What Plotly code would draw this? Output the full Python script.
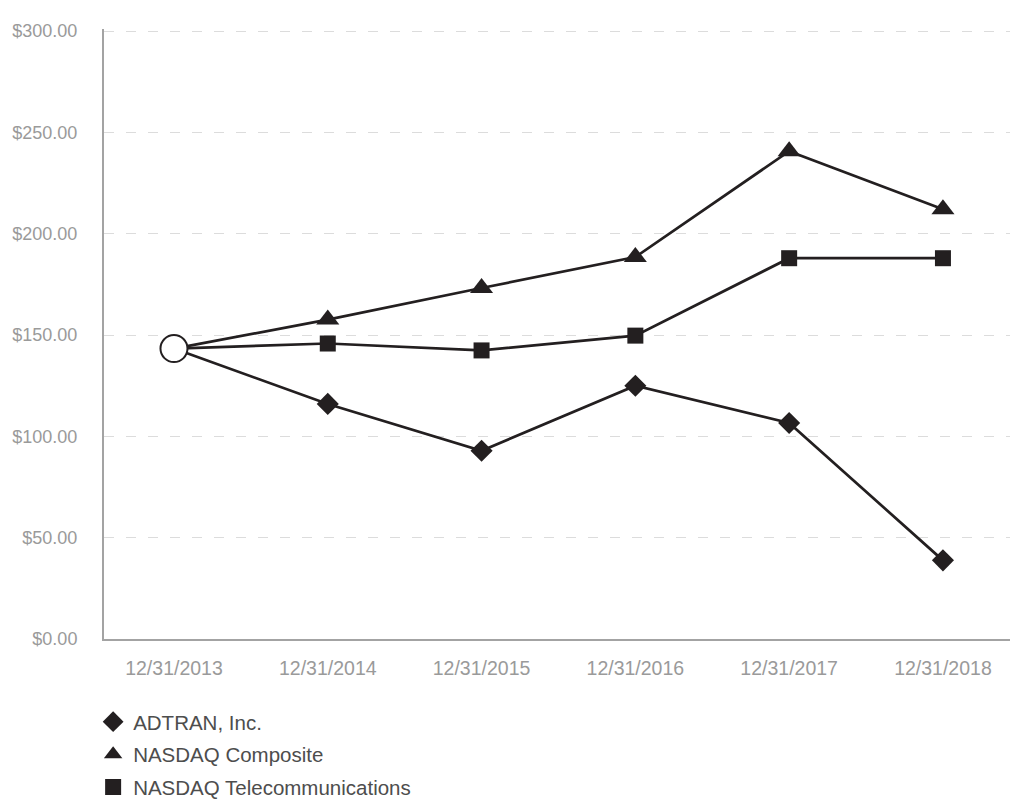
import plotly.graph_objects as go

dates = ["12/31/2013", "12/31/2014", "12/31/2015", "12/31/2016", "12/31/2017", "12/31/2018"]
adtran = [143.3, 116.0, 92.9, 125.0, 106.6, 38.8]
nasdaq_composite = [143.3, 157.6, 173.2, 188.5, 240.7, 212.1]
nasdaq_telecom = [143.3, 145.8, 142.4, 149.7, 187.9, 187.9]
y_ticks = [0, 50, 100, 150, 200, 250, 300]

LINE = "#231f20"
FONT = "Liberation Sans, Arial, Helvetica, sans-serif"

xi = list(range(len(dates)))

fig = go.Figure()

series = [
    ("ADTRAN, Inc.", adtran, "diamond", 17),
    ("NASDAQ Composite", nasdaq_composite, "triangle-up", 20),
    ("NASDAQ Telecommunications", nasdaq_telecom, "square", 16),
]
for i, (name, vals, sym, sz) in enumerate(series):
    sizes = [0] + [sz] * (len(vals) - 1)
    fig.add_trace(go.Scatter(
        x=xi, y=vals, name=name, mode="lines+markers", showlegend=False,
        line=dict(color=LINE, width=2.7),
        marker=dict(symbol=sym, size=sizes, color=LINE, opacity=1, line=dict(width=0)),
    ))

# common starting point marker
fig.add_trace(go.Scatter(
    x=[xi[0]], y=[adtran[0]], mode="markers", showlegend=False,
    marker=dict(symbol="circle", size=27, color="white", opacity=1,
                line=dict(color=LINE, width=2)),
))

# legend entries (markers only)
for i, (name, vals, sym, sz) in enumerate(series):
    fig.add_trace(go.Scatter(
        x=[None], y=[None], name=name, mode="markers", showlegend=True,
        marker=dict(symbol=sym, size=sz, color=LINE, opacity=1, line=dict(width=0)),
        legendgroup=f"g{i}",
    ))

fig.update_layout(
    width=1010, height=801,
    margin=dict(l=104, r=0, t=29, b=162, autoexpand=False),
    paper_bgcolor="white", plot_bgcolor="white",
    font=dict(family=FONT),
    showlegend=True,
    legend=dict(
        x=-0.012, y=-0.103, xanchor="left", yanchor="top",
        orientation="v",
        font=dict(size=20.5, color="#4d4d4d", family=FONT),
        tracegroupgap=3,
        bgcolor="rgba(0,0,0,0)",
    ),
    xaxis=dict(
        range=[-0.455, 5.436],
        tickmode="array", tickvals=xi, ticktext=dates,
        showgrid=False, zeroline=False,
        showline=True, linecolor="#a3a3a3", linewidth=2,
        ticks="", ticklabelstandoff=11,
        tickfont=dict(size=19.5, color="#9a9a9a", family=FONT),
    ),
    yaxis=dict(
        range=[0, 301],
        tickmode="array", tickvals=y_ticks,
        ticktext=[f"${v:,.2f}" for v in y_ticks],
        showgrid=True, gridcolor="#dcdcdc", gridwidth=1, griddash="10px,12px",
        zeroline=False,
        showline=True, linecolor="#a3a3a3", linewidth=2,
        ticks="", ticklabelstandoff=21,
        tickfont=dict(size=18, color="#9a9a9a", family=FONT),
    ),
)

fig.write_html("out.html")
